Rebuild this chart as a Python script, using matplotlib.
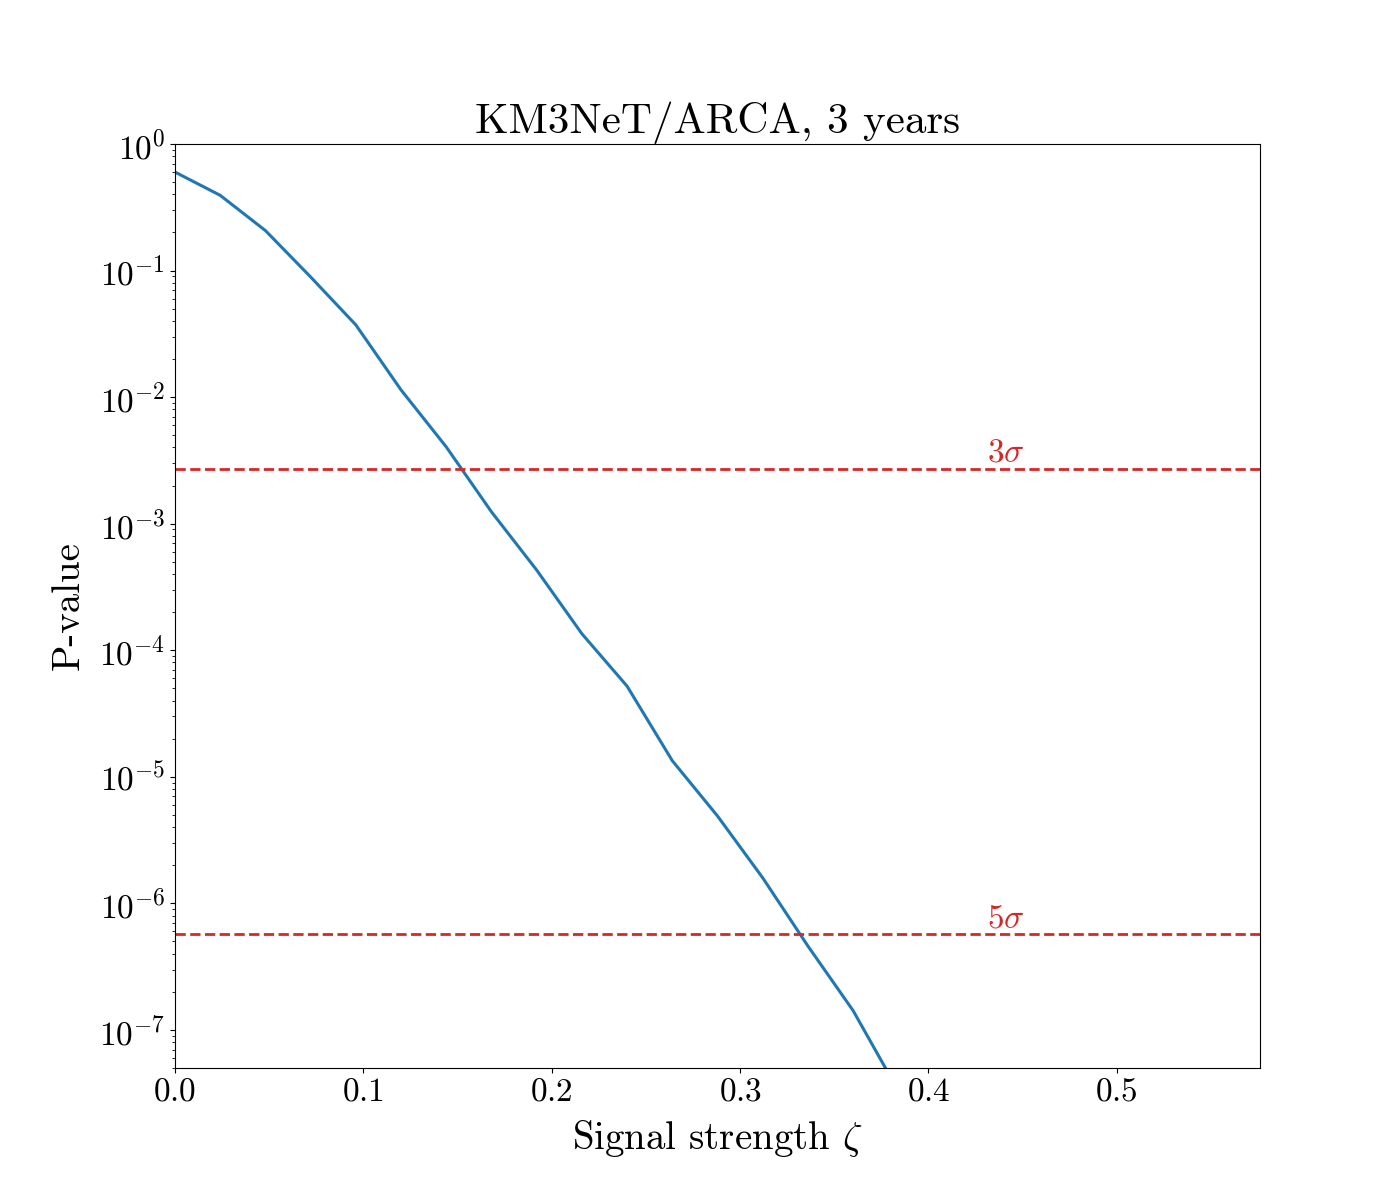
import matplotlib
matplotlib.use("Agg")
import matplotlib.pyplot as plt

zeta = [0.0, 0.024, 0.048, 0.072, 0.096, 0.12, 0.144, 0.168, 0.192, 0.216,
        0.24, 0.264, 0.288, 0.312, 0.336, 0.36, 0.384]
pvalue = [0.60, 0.393, 0.207, 0.089, 0.0372, 0.0114, 0.00404, 0.00124, 4.3e-4,
          1.35e-4, 5.2e-5, 1.34e-5, 4.9e-6, 1.59e-6, 4.6e-7, 1.42e-7, 3.3e-8]
sigma_levels = [2.7e-3, 5.7e-7]
sigma_labels = [r"$3\sigma$", r"$5\sigma$"]
y_major_ticks = [1e0, 1e-1, 1e-2, 1e-3, 1e-4, 1e-5, 1e-6, 1e-7]
x_ticks = [0.0, 0.1, 0.2, 0.3, 0.4, 0.5]

plt.rcParams.update({
    "font.family": "serif",
    "font.serif": ["cmr10"],
    "mathtext.fontset": "cm",
    "axes.formatter.use_mathtext": True,
    "axes.unicode_minus": True,
})

fig, ax = plt.subplots(figsize=(14, 12), dpi=100)
ax.plot(zeta, pvalue, color="#1f77b4", lw=2.2)
for p, lab in zip(sigma_levels, sigma_labels):
    ax.axhline(p, color="#d62728", ls="--", lw=2)
    ax.text(0.431, p * 1.14, lab, color="#d62728", fontsize=24, va="baseline")

ax.set_yscale("log")
ax.set_yticks(y_major_ticks)
ax.set_xticks(x_ticks)
ax.set_xlim(0, 0.576)
ax.set_ylim(5e-8, 1)
ax.set_title("KM3NeT/ARCA, 3 years", fontsize=31)
ax.set_xlabel(r"Signal strength $\zeta$", fontsize=28, labelpad=8)
ax.set_ylabel("P-value", fontsize=28, labelpad=9)
ax.tick_params(labelsize=24)

fig.savefig("out.png", dpi=100)
